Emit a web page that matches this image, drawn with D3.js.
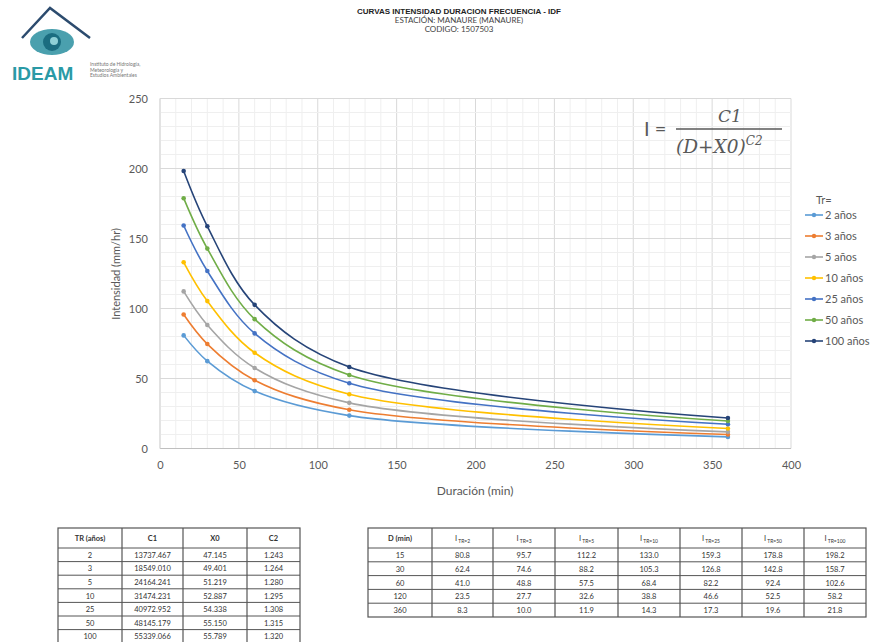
<!DOCTYPE html>
<html><head><meta charset="utf-8">
<script src="https://cdn.jsdelivr.net/npm/d3@7/dist/d3.min.js"></script>
<style>body{margin:0;background:#fff}svg{display:block;font-family:Lato,"Open Sans",sans-serif}</style>
</head><body><svg id="c" width="891" height="642"></svg>
<script>
const durations = [15, 30, 60, 120, 360];
const returnPeriods = ["2", "3", "5", "10", "25", "50", "100"];
const seriesNames = ["2 años", "3 años", "5 años", "10 años", "25 años", "50 años", "100 años"];
const seriesColors = ["#5B9BD5", "#ED7D31", "#A5A5A5", "#FFC000", "#4472C4", "#70AD47", "#264478"];
const i2 = [80.8, 62.4, 41.0, 23.5, 8.3];
const i3 = [95.7, 74.6, 48.8, 27.7, 10.0];
const i5 = [112.2, 88.2, 57.5, 32.6, 11.9];
const i10 = [133.0, 105.3, 68.4, 38.8, 14.3];
const i25 = [159.3, 126.8, 82.2, 46.6, 17.3];
const i50 = [178.8, 142.8, 92.4, 52.5, 19.6];
const i100 = [198.2, 158.7, 102.6, 58.2, 21.8];
const seriesValues = [i2, i3, i5, i10, i25, i50, i100];
const c1 = ["13737.467", "18549.010", "24164.241", "31474.231", "40972.952", "48145.179", "55339.066"];
const x0 = ["47.145", "49.401", "51.219", "52.887", "54.338", "55.150", "55.789"];
const c2 = ["1.243", "1.264", "1.280", "1.295", "1.308", "1.315", "1.320"];
const xTicks = [0, 50, 100, 150, 200, 250, 300, 350, 400];
const yTicks = [0, 50, 100, 150, 200, 250];

const svg = d3.select("#c");
const x = d3.scaleLinear().domain([0, 400]).range([160, 791]);
const y = d3.scaleLinear().domain([0, 250]).range([448.5, 98.5]);

// grid
const g = svg.append("g");
g.selectAll(".mx").data(d3.range(0, 401, 10)).join("line")
  .attr("x1", d => x(d)).attr("x2", d => x(d)).attr("y1", y(0)).attr("y2", y(250))
  .attr("stroke", d => d % 50 === 0 ? "#d9d9d9" : "#efefef").attr("stroke-width", 1);
g.selectAll(".my").data(d3.range(0, 251, 10)).join("line")
  .attr("y1", d => y(d)).attr("y2", d => y(d)).attr("x1", x(0)).attr("x2", x(400))
  .attr("stroke", d => d % 50 === 0 ? "#d9d9d9" : "#efefef").attr("stroke-width", 1);
g.append("line").attr("x1", x(0)).attr("x2", x(400)).attr("y1", y(0)).attr("y2", y(0)).attr("stroke", "#bfbfbf");
g.append("line").attr("x1", x(0)).attr("x2", x(0)).attr("y1", y(0)).attr("y2", y(250)).attr("stroke", "#d9d9d9");

// tick labels
const xa = svg.append("g").attr("transform", `translate(0,${y(0)})`)
  .call(d3.axisBottom(x).tickValues(xTicks).tickSize(0).tickPadding(13));
xa.select(".domain").remove();
xa.selectAll("text").attr("fill", "#595959").style("font-size", "11px").style("font-family", "Lato,sans-serif");
const ya = svg.append("g").attr("transform", `translate(${x(0)},0)`)
  .call(d3.axisLeft(y).tickValues(yTicks).tickSize(0).tickPadding(12));
ya.select(".domain").remove();
ya.selectAll("text").attr("fill", "#595959").style("font-size", "11px").style("font-family", "Lato,sans-serif");

svg.append("text").attr("x", 475).attr("y", 495).attr("text-anchor", "middle")
  .attr("fill", "#595959").style("font-size", "12px").text("Duración (min)");
svg.append("text").attr("transform", "translate(120,274) rotate(-90)").attr("text-anchor", "middle")
  .attr("fill", "#595959").style("font-size", "11px").text("Intensidad (mm/hr)");

// curves
const line = d3.line().x((d, i) => x(durations[i])).y(d => y(d)).curve(d3.curveCatmullRom.alpha(0.5));
seriesValues.forEach((vals, k) => {
  svg.append("path").attr("d", line(vals)).attr("fill", "none")
    .attr("stroke", seriesColors[k]).attr("stroke-width", 1.6);
  svg.selectAll(null).data(vals).join("circle")
    .attr("cx", (d, i) => x(durations[i])).attr("cy", d => y(d)).attr("r", 2.3)
    .attr("fill", seriesColors[k]);
});

// legend
const lg = svg.append("g");
lg.append("text").attr("x", 816).attr("y", 204).attr("fill", "#595959").style("font-size", "11px").text("Tr=");
seriesNames.forEach((n, k) => {
  const yy = 215 + k * 21;
  lg.append("line").attr("x1", 805).attr("x2", 823).attr("y1", yy).attr("y2", yy)
    .attr("stroke", seriesColors[k]).attr("stroke-width", 1.6);
  lg.append("circle").attr("cx", 814).attr("cy", yy).attr("r", 2.2).attr("fill", seriesColors[k]);
  lg.append("text").attr("x", 825).attr("y", yy + 4).attr("fill", "#595959").style("font-size", "11px").text(n);
});

// formula
const fm = svg.append("g").attr("fill", "#595959").style("font-family", "'DejaVu Serif',serif");
fm.append("text").attr("x", 644).attr("y", 136).style("font-size", "20px").style("font-family", "Lato,sans-serif").text("I =");
fm.append("line").attr("x1", 676).attr("x2", 782).attr("y1", 129).attr("y2", 129).attr("stroke", "#595959").attr("stroke-width", 1.3);
fm.append("text").attr("x", 730).attr("y", 122).attr("text-anchor", "middle").style("font-size", "17px").style("font-style", "italic").text("C1");
const den = fm.append("text").attr("x", 676).attr("y", 153).style("font-size", "18.5px").style("font-style", "italic");
den.append("tspan").text("(D+X0)");
den.append("tspan").attr("dy", -8).style("font-size", "12px").text("C2");

// title
const tt = svg.append("g").attr("text-anchor", "middle").attr("fill", "#222");
tt.append("text").attr("x", 459).attr("y", 14).style("font-size", "8px").style("font-weight", "bold").style("font-family", "'Liberation Sans Narrow','Liberation Sans',sans-serif").text("CURVAS INTENSIDAD DURACION FRECUENCIA - IDF");
tt.append("text").attr("x", 459).attr("y", 23).style("font-size", "8px").attr("fill", "#444").text("ESTACIÓN: MANAURE (MANAURE)");
tt.append("text").attr("x", 459).attr("y", 32).style("font-size", "8px").attr("fill", "#444").text("CODIGO: 1507503");

// logo
const lo = svg.append("g");
lo.append("path").attr("d", "M22,38 L50,8 L90,38").attr("fill", "none").attr("stroke", "#2c4b6e").attr("stroke-width", 2.5);
lo.append("ellipse").attr("cx", 52).attr("cy", 42).attr("rx", 22).attr("ry", 13).attr("fill", "#2a8fa0").attr("opacity", 0.85);
lo.append("circle").attr("cx", 52).attr("cy", 42).attr("r", 9).attr("fill", "#1b6d80");
lo.append("circle").attr("cx", 54).attr("cy", 41).attr("r", 4).attr("fill", "#8fd0d6");
lo.append("text").attr("x", 12).attr("y", 80).attr("fill", "#2a9aa6").style("font-size", "19px").style("font-weight", "bold").style("font-family", "'Liberation Sans',sans-serif").text("IDEAM");
["Instituto de Hidrología,", "Meteorología y", "Estudios Ambientales"].forEach((t, i) => {
  lo.append("text").attr("x", 90).attr("y", 66 + i * 5.5).attr("fill", "#777").style("font-size", "5px").text(t);
});

// tables
function drawTable(left, colW, headerH, rowH, top, headers, rows) {
  const tg = svg.append("g").style("font-size", "7.5px").attr("fill", "#333");
  const totalW = d3.sum(colW);
  const xs = [left]; colW.forEach(w => xs.push(xs[xs.length - 1] + w));
  const nRows = rows.length;
  const bottom = top + headerH + nRows * rowH;
  tg.append("rect").attr("x", left).attr("y", top).attr("width", totalW).attr("height", bottom - top)
    .attr("fill", "none").attr("stroke", "#555").attr("stroke-width", 1.2);
  xs.slice(1, -1).forEach(xx => tg.append("line").attr("x1", xx).attr("x2", xx).attr("y1", top).attr("y2", bottom).attr("stroke", "#555").attr("stroke-width", 1.2));
  for (let r = 0; r < nRows; r++) {
    const yy = top + headerH + r * rowH;
    tg.append("line").attr("x1", left).attr("x2", left + totalW).attr("y1", yy).attr("y2", yy).attr("stroke", "#555").attr("stroke-width", 1);
  }
  headers.forEach((h, c) => {
    const t = tg.append("text").attr("x", xs[c] + colW[c] / 2).attr("y", top + headerH / 2 + 3).attr("text-anchor", "middle");
    if (typeof h === "string") t.style("font-weight", "bold").text(h);
    else { t.append("tspan").text("I"); t.append("tspan").attr("dy", 2).style("font-size", "5px").text(" " + h.sub); }
  });
  rows.forEach((row, r) => row.forEach((v, c) => {
    tg.append("text").attr("x", xs[c] + colW[c] / 2).attr("y", top + headerH + r * rowH + rowH / 2 + 3)
      .attr("text-anchor", "middle").text(v);
  }));
}
drawTable(58, [64, 61, 64, 53], 20, 13.6, 528, ["TR (años)", "C1", "X0", "C2"],
  returnPeriods.map((tr, i) => [tr, c1[i], x0[i], c2[i]]));
drawTable(368, [64, 61, 62, 63, 62, 62, 62, 62], 20, 13.8, 528,
  ["D (min)"].concat(returnPeriods.map(tr => ({sub: "TR=" + tr}))),
  durations.map((d, i) => [String(d)].concat(seriesValues.map(s => s[i].toFixed(1)))));
</script></body></html>
